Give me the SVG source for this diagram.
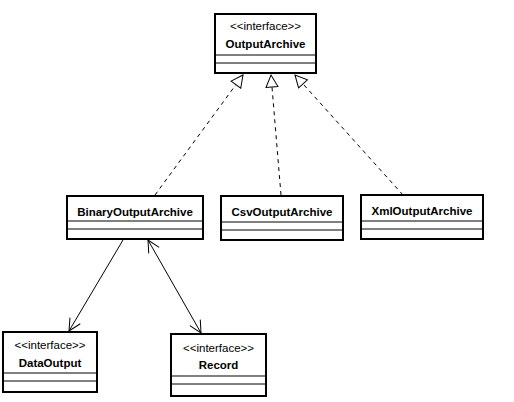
<svg xmlns="http://www.w3.org/2000/svg" width="514" height="402" viewBox="0 0 514 402">
<defs>
<style>
.box{fill:#fff;stroke:#000;stroke-width:2}
.div{stroke:#000;stroke-width:1}
.st{font-family:"Liberation Sans",Arial,sans-serif;font-size:11.5px;text-anchor:middle;fill:#000}
.nm{font-family:"Liberation Sans",Arial,sans-serif;font-size:11.5px;font-weight:bold;text-anchor:middle;fill:#000}
.dash{stroke:#000;stroke-width:1;stroke-dasharray:4,4;fill:none}
.sol{stroke:#000;stroke-width:1;fill:none}
</style>
<marker id="tri" viewBox="0 0 14 14" refX="13" refY="7" markerWidth="14" markerHeight="14" markerUnits="userSpaceOnUse" orient="auto">
<path d="M1,1 L13,7 L1,13 Z" fill="#fff" stroke="#000" stroke-width="1"/>
</marker>
<marker id="open" viewBox="0 0 14 14" refX="13" refY="7" markerWidth="14" markerHeight="14" markerUnits="userSpaceOnUse" orient="auto">
<path d="M1,1 L13,7 L1,13" fill="none" stroke="#000" stroke-width="1"/>
</marker>
<marker id="openS" viewBox="0 0 14 14" refX="1" refY="7" markerWidth="14" markerHeight="14" markerUnits="userSpaceOnUse" orient="auto">
<path d="M13,1 L1,7 L13,13" fill="none" stroke="#000" stroke-width="1"/>
</marker>
</defs>
<rect width="514" height="402" fill="#fff"/>
<g id="connectors">
<line class="dash" x1="155" y1="195" x2="243" y2="75" marker-end="url(#tri)"/>
<line class="dash" x1="281" y1="195" x2="271" y2="75" marker-end="url(#tri)"/>
<line class="dash" x1="403" y1="195" x2="295" y2="75" marker-end="url(#tri)"/>
<line class="sol" x1="123" y1="240" x2="69" y2="331" marker-end="url(#open)"/>
<line class="sol" x1="148" y1="240" x2="201" y2="333" marker-start="url(#openS)" marker-end="url(#open)"/>
</g>
<g id="OutputArchive">
<rect class="box" x="215" y="14" width="101" height="59"/>
<line class="div" x1="215" y1="55" x2="316" y2="55"/>
<line class="div" x1="215" y1="63" x2="316" y2="63"/>
<text class="st" x="265.5" y="30">&lt;&lt;interface&gt;&gt;</text>
<text class="nm" x="265.5" y="48">OutputArchive</text>
</g>
<g id="BinaryOutputArchive">
<rect class="box" x="67" y="196" width="136" height="43"/>
<line class="div" x1="67" y1="221" x2="203" y2="221"/>
<line class="div" x1="67" y1="229" x2="203" y2="229"/>
<text class="nm" x="135" y="216">BinaryOutputArchive</text>
</g>
<g id="CsvOutputArchive">
<rect class="box" x="221" y="196" width="122" height="44"/>
<line class="div" x1="221" y1="222" x2="343" y2="222"/>
<line class="div" x1="221" y1="230" x2="343" y2="230"/>
<text class="nm" x="282" y="216">CsvOutputArchive</text>
</g>
<g id="XmlOutputArchive">
<rect class="box" x="361" y="195" width="122" height="44"/>
<line class="div" x1="361" y1="221" x2="483" y2="221"/>
<line class="div" x1="361" y1="229" x2="483" y2="229"/>
<text class="nm" x="422" y="215">XmlOutputArchive</text>
</g>
<g id="DataOutput">
<rect class="box" x="3" y="332" width="94" height="60"/>
<line class="div" x1="3" y1="373" x2="97" y2="373"/>
<line class="div" x1="3" y1="381" x2="97" y2="381"/>
<text class="st" x="50" y="349">&lt;&lt;interface&gt;&gt;</text>
<text class="nm" x="50" y="367">DataOutput</text>
</g>
<g id="Record">
<rect class="box" x="171" y="334" width="95" height="62"/>
<line class="div" x1="171" y1="376" x2="266" y2="376"/>
<line class="div" x1="171" y1="384" x2="266" y2="384"/>
<text class="st" x="218.5" y="352">&lt;&lt;interface&gt;&gt;</text>
<text class="nm" x="218.5" y="369">Record</text>
</g>
</svg>
